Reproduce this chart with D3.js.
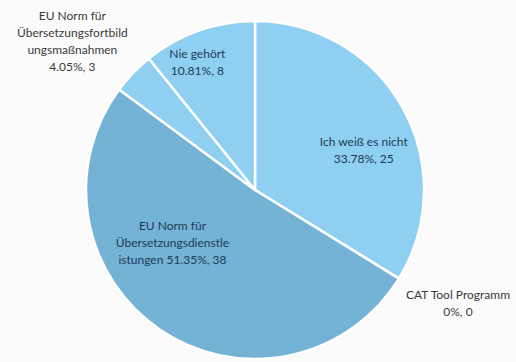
<!DOCTYPE html>
<html>
<head>
<meta charset="utf-8">
<script src="https://cdn.jsdelivr.net/npm/d3@7"></script>
<style>
  body { margin: 0; background: #fbfbfb; }
  svg { display: block; font-family: Lato, "Open Sans", sans-serif; }
</style>
</head>
<body>
<div id="pie"></div>
<script>
// Data
const categories = ["Ich weiß es nicht", "CAT Tool Programm", "EU Norm für Übersetzungsdienstleistungen", "EU Norm für Übersetzungsfortbildungsmaßnahmen", "Nie gehört"];
const counts = [25, 0, 38, 3, 8];
const percents = ["33.78%", "0%", "51.35%", "4.05%", "10.81%"];
// label lines as they wrap in the picture
const labelLines = [
  ["Ich weiß es nicht", "33.78%, 25"],
  ["CAT Tool Programm", "0%, 0"],
  ["EU Norm für", "Übersetzungsdienstle", "istungen 51.35%, 38"],
  ["EU Norm für", "Übersetzungsfortbild", "ungsmaßnahmen", "4.05%, 3"],
  ["Nie gehört", "10.81%, 8"]
];

const width = 516, height = 362;
const cx = 255, cy = 190, radius = 169;

const colors = ["#8ecff2", "#8ecff2", "#74b3d6", "#8ecff2", "#8ecff2"];
// label placement: radius along slice mid-angle, plus a nudge, inside or outside
const labelPos = [
  {r: 112, dx: 11, dy: 15, inside: true},
  {r: 236, dx: 2, dy: -10, inside: false},
  {r: 92, dx: -31, dy: -23, inside: true},
  {r: 235, dx: -13, dy: 14, inside: false},
  {r: 140, dx: -11, dy: 4, inside: true}
];

const svg = d3.select("#pie")
  .append("svg")
    .attr("width", width)
    .attr("height", height);

svg.append("rect")
    .attr("width", width)
    .attr("height", height)
    .attr("fill", "#fbfbfb");

const g = svg.append("g")
    .attr("transform", `translate(${cx},${cy})`);

const data = categories.map((c, i) => ({name: c, value: counts[i], i: i}));

const pie = d3.pie()
    .value(d => d.value)
    .sort(null);

const arc = d3.arc()
    .innerRadius(0)
    .outerRadius(radius);

const arcs = pie(data);

// Slices
g.selectAll("path")
  .data(arcs)
  .join("path")
    .attr("d", arc)
    .attr("fill", d => colors[d.data.i])
    .attr("stroke", "#ffffff")
    .attr("stroke-width", 2.5)
    .attr("stroke-linejoin", "round");

// Labels
const labels = g.selectAll("text.lbl")
  .data(arcs)
  .join("text")
    .attr("class", "lbl")
    .attr("text-anchor", "middle")
    .attr("font-size", "12px")
    .attr("fill", d => labelPos[d.data.i].inside ? "#1e3a56" : "#3a3a3a")
    .attr("transform", d => {
        const p = labelPos[d.data.i];
        const c = d3.arc().innerRadius(p.r).outerRadius(p.r).centroid(d);
        return `translate(${c[0] + p.dx},${c[1] + p.dy})`;
    });

labels.each(function(d) {
    const lines = labelLines[d.data.i];
    const t = d3.select(this);
    const lh = 17;
    lines.forEach((line, k) => {
        t.append("tspan")
            .attr("x", 0)
            .attr("y", (k - (lines.length - 1) / 2) * lh)
            .attr("dy", "0.35em")
            .text(line);
    });
});
</script>
</body>
</html>
